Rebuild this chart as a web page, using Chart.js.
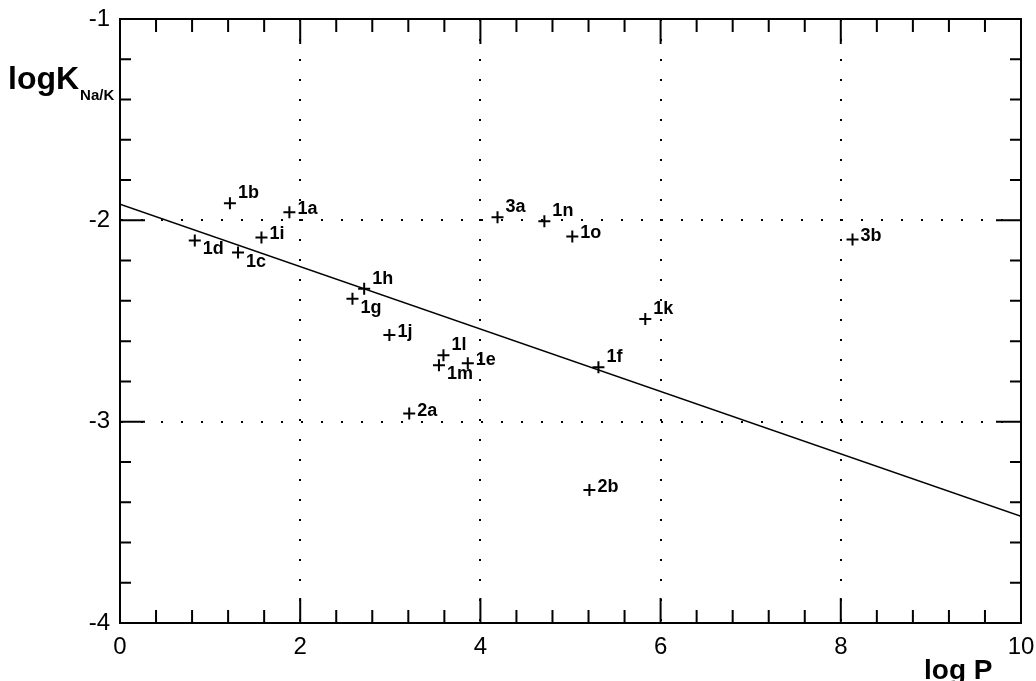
<!DOCTYPE html>
<html>
<head>
  <style>
    html, body { margin: 0; padding: 0; background: #fff; }
    #wrap { width: 1036px; height: 681px; }
  </style>
</head>
<body>
  <div id="wrap"><canvas id="chart" width="1036" height="681"></canvas></div>

  <script src="https://cdn.jsdelivr.net/npm/chart.js"></script>
  <script>
    // compound labels and measured values
    const names = ['1a','1b','1c','1d','1e','1f','1g','1h','1i','1j','1k','1l','1m','1n','1o','2a','2b','3a','3b'];
    const logP  = [1.88, 1.22, 1.31, 0.83, 3.86, 5.31, 2.58, 2.71, 1.57, 2.99, 5.83, 3.59, 3.54, 4.71, 5.02, 3.21, 5.21, 4.19, 8.13];
    const logK  = [-1.96, -1.915, -2.16, -2.10, -2.71, -2.73, -2.39, -2.34, -2.085, -2.57, -2.49, -2.67, -2.72, -2.005, -2.08, -2.96, -3.34, -1.985, -2.095];

    // regression line end points
    const fitX = [0, 10];
    const fitY = [-1.92, -3.47];

    const xTickLabels = ['0', '2', '4', '6', '8', '10'];
    const yTickLabels = ['-4', '-3', '-2', '-1'];

    // where each label sits relative to its cross
    const labelPlace = { '1b': 'sup', '1d': 'sub', '1c': 'sub', '1h': 'sup', '1g': 'sub',
                         '1l': 'sup', '1m': 'sub', '3a': 'sup', '1n': 'sup', '1k': 'sup', '1f': 'sup' };

    const pointData = logP.map((x, i) => ({ x: x, y: logK[i] }));
    const fitData = fitX.map((x, i) => ({ x: x, y: fitY[i] }));

    const hideEdge = (lo, hi) => (c) => (c.tick && (c.tick.value === lo || c.tick.value === hi)) ? 'rgba(0,0,0,0)' : '#000';

    const framePlugin = {
      id: 'frame',
      afterDraw(chart) {
        const ctx = chart.ctx, a = chart.chartArea;
        const xs = chart.scales.x, ys = chart.scales.y;
        ctx.save();
        ctx.strokeStyle = '#000';
        ctx.lineWidth = 2;
        ctx.strokeRect(a.left, a.top, a.right - a.left, a.bottom - a.top);
        ctx.beginPath();
        for (let i = 0; i <= 25; i++) {
          const px = xs.getPixelForValue(i * 0.4);
          const len = (i % 5 === 0) ? 25 : 13;
          ctx.moveTo(px, a.bottom); ctx.lineTo(px, a.bottom - len);
          ctx.moveTo(px, a.top); ctx.lineTo(px, a.top + len);
        }
        for (let i = 0; i <= 15; i++) {
          const py = ys.getPixelForValue(-4 + i * 0.2);
          const len = (i % 5 === 0) ? 25 : 11;
          ctx.moveTo(a.left, py); ctx.lineTo(a.left + len, py);
          ctx.moveTo(a.right, py); ctx.lineTo(a.right - len, py);
        }
        ctx.stroke();

        // point labels
        const meta = chart.getDatasetMeta(0);
        ctx.fillStyle = '#000';
        ctx.font = 'bold 18px "Liberation Sans", sans-serif';
        ctx.textBaseline = 'middle';
        ctx.textAlign = 'left';
        meta.data.forEach((el, i) => {
          const p = labelPlace[names[i]];
          const dy = p === 'sup' ? -10 : (p === 'sub' ? 9 : -3);
          ctx.fillText(names[i], el.x + 8, el.y + dy);
        });

        // axis titles
        ctx.textBaseline = 'alphabetic';
        ctx.font = 'bold 32px "Liberation Sans", sans-serif';
        ctx.fillText('logK', 8, 89);
        const kw = ctx.measureText('logK').width;
        ctx.font = 'bold 15px "Liberation Sans", sans-serif';
        ctx.fillText('Na/K', 8 + kw + 1, 100);
        ctx.font = 'bold 28px "Liberation Sans", sans-serif';
        ctx.fillText('log P', 924, 679);
        ctx.restore();
      }
    };

    new Chart(document.getElementById('chart'), {
      type: 'scatter',
      data: {
        datasets: [
          {
            label: 'compounds',
            data: pointData,
            pointStyle: 'cross',
            pointRadius: 6,
            pointBorderWidth: 2,
            borderColor: '#000',
            backgroundColor: '#000'
          },
          {
            label: 'fit',
            type: 'line',
            data: fitData,
            borderColor: '#000',
            borderWidth: 1.5,
            pointRadius: 0,
            fill: false
          }
        ]
      },
      options: {
        responsive: false,
        animation: false,
        layout: { padding: { left: 0, right: 15, top: 19, bottom: 0 } },
        plugins: { legend: { display: false }, tooltip: { enabled: false } },
        scales: {
          x: {
            type: 'linear', min: 0, max: 10,
            afterFit: (s) => { s.height = 58; s.paddingLeft = 0; s.paddingRight = 0; },
            ticks: {
              stepSize: 2, padding: 10, color: '#000',
              font: { family: '"Liberation Sans", sans-serif', size: 24 },
              callback: (v) => xTickLabels[v / 2]
            },
            grid: { drawTicks: false, lineWidth: 2, color: hideEdge(0, 10) },
            border: { display: true, color: '#000', width: 2, dash: [2, 18] }
          },
          y: {
            type: 'linear', min: -4, max: -1,
            afterFit: (s) => { s.width = 120; s.paddingTop = 0; s.paddingBottom = 0; },
            ticks: {
              stepSize: 1, padding: 10, color: '#000',
              font: { family: '"Liberation Sans", sans-serif', size: 24 },
              callback: (v) => yTickLabels[v + 4]
            },
            grid: { drawTicks: false, lineWidth: 2, color: hideEdge(-4, -1) },
            border: { display: true, color: '#000', width: 2, dash: [2, 18] }
          }
        }
      },
      plugins: [framePlugin]
    });
  </script>
</body>
</html>
